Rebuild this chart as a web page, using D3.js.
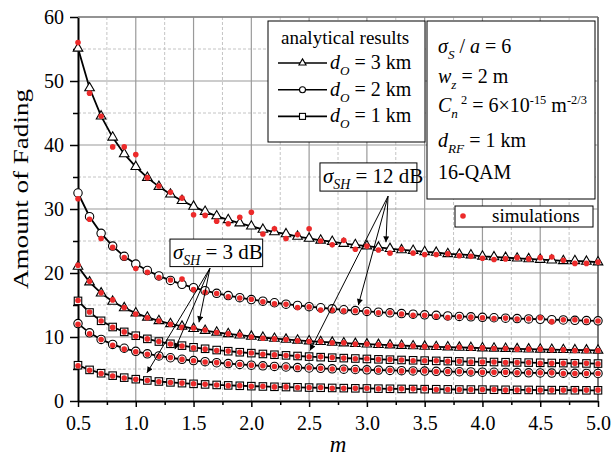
<!DOCTYPE html>
<html>
<head>
<meta charset="utf-8">
<script src="https://cdn.jsdelivr.net/npm/d3@7"></script>
<style>
  body { margin: 0; background: #fff; }
  svg { font-family: "Liberation Serif", "Times New Roman", serif; }
  text { white-space: pre; }
</style>
</head>
<body>
<div class="chart"></div>
<script>
// m values (x axis)
const mValues = [0.5,0.6,0.7,0.8,0.9,1.0,1.1,1.2,1.3,1.4,1.5,1.6,1.7,1.8,1.9,2.0,2.1,2.2,2.3,2.4,2.5,2.6,2.7,2.8,2.9,3.0,
  3.1,3.2,3.3,3.4,3.5,3.6,3.7,3.8,3.9,4.0,4.1,4.2,4.3,4.4,4.5,4.6,4.7,4.8,4.9,5.0]

// analytical results, sigma_SH = 12 dB
const afD3s12 = [55.1,48.9,44.5,41.2,38.6,36.6,34.9,33.5,32.3,31.3,30.4,29.6,28.9,28.3,27.8,27.3,26.8,26.4,26.1,25.7,25.4,25.1,24.9,24.6,24.4,24.2,
  24.0,23.8,23.6,23.5,23.3,23.2,23.0,22.9,22.8,22.6,22.5,22.4,22.3,22.2,22.1,22.0,21.9,21.9,21.8,21.7]
const afD2s12 = [32.5,28.8,26.2,24.2,22.6,21.4,20.4,19.55,18.84,18.23,17.7,17.24,16.83,16.47,16.14,15.85,15.59,15.35,15.13,14.93,14.74,14.57,14.41,14.26,14.13,14.0,
  13.88,13.77,13.66,13.56,13.47,13.38,13.3,13.22,13.15,13.08,13.01,12.94,12.88,12.82,12.77,12.71,12.66,12.61,12.57,12.52]
const afD1s12 = [15.64,13.83,12.53,11.56,10.8,10.2,9.71,9.29,8.94,8.65,8.39,8.16,7.96,7.78,7.62,7.48,7.35,7.23,7.13,7.03,6.94,6.85,6.77,6.7,6.64,6.57,
  6.51,6.46,6.41,6.36,6.31,6.27,6.23,6.19,6.15,6.12,6.09,6.06,6.03,6.0,5.97,5.94,5.92,5.89,5.87,5.85]
// analytical results, sigma_SH = 3 dB
const afD3s3 = [21.01,18.58,16.85,15.55,14.54,13.73,13.07,12.52,12.05,11.65,11.3,11.0,10.73,10.49,10.28,10.09,9.92,9.76,9.62,9.48,9.36,9.25,9.15,9.05,8.96,8.88,
  8.8,8.73,8.66,8.59,8.53,8.47,8.42,8.37,8.32,8.27,8.23,8.18,8.14,8.1,8.07,8.03,8.0,7.97,7.94,7.91]
const afD2s3 = [12.09,10.65,9.62,8.84,8.24,7.76,7.37,7.04,6.76,6.52,6.32,6.14,5.98,5.84,5.71,5.6,5.49,5.4,5.31,5.23,5.16,5.1,5.03,4.98,4.92,4.87,
  4.83,4.78,4.74,4.7,4.67,4.63,4.6,4.57,4.54,4.51,4.49,4.46,4.44,4.41,4.39,4.37,4.35,4.33,4.31,4.3]
const afD1s3 = [5.59,4.86,4.34,3.96,3.65,3.41,3.21,3.05,2.91,2.79,2.68,2.59,2.51,2.44,2.38,2.32,2.27,2.22,2.18,2.14,2.1,2.07,2.04,2.01,1.98,1.96,
  1.93,1.91,1.89,1.87,1.85,1.84,1.82,1.8,1.79,1.78,1.76,1.75,1.74,1.73,1.71,1.7,1.69,1.68,1.67,1.67]

// simulations
const simD3s12 = [56.0,48.1,44.5,39.7,39.7,38.5,34.9,33.6,32.6,31.7,29.1,29.0,28.1,27.7,28.7,29.5,26.1,26.9,25.4,26.0,26.9,25.0,24.4,25.1,23.7,24.2,
  23.6,23.1,23.7,23.1,22.9,22.9,23.0,22.7,22.6,22.3,22.1,22.2,22.4,22.2,22.4,22.5,22.0,21.5,21.5,21.7]
const simD2s12 = [31.6,28.4,25.4,24.0,22.4,20.7,20.1,19.3,18.9,19.05,17.4,17.0,16.8,16.3,16.1,15.9,15.5,15.2,15.1,14.6,14.7,14.2,14.2,14.1,14.1,13.9,
  13.8,13.8,13.6,13.4,13.4,13.25,13.05,13.15,13.1,13.0,12.9,12.95,12.8,12.85,13.0,12.4,12.7,12.7,12.5,12.5]
const simD1s12 = [15.7,13.9,12.5,11.5,10.8,10.1,9.7,9.3,8.9,8.6,8.3,8.1,7.9,7.8,7.6,7.5,7.3,7.2,7.1,7.0,6.9,6.9,6.8,6.7,6.6,6.6,
  6.5,6.5,6.4,6.3,6.3,6.3,6.2,6.2,6.1,6.1,6.1,6.0,6.0,6.0,5.9,5.9,5.9,5.9,5.9,5.8]
const simD3s3 = [21.2,18.7,16.9,15.8,14.6,13.6,13.0,12.5,12.0,11.5,11.4,11.1,10.7,10.5,10.3,10.0,9.8,9.7,9.6,9.4,9.3,9.3,9.1,9.1,8.9,8.9,
  8.8,8.7,8.7,8.6,8.5,8.5,8.4,8.4,8.3,8.3,8.2,8.2,8.1,8.1,8.1,8.0,8.0,7.9,7.9,7.9]
const simD2s3 = [12.0,10.5,9.6,8.7,8.1,7.7,7.3,7.0,6.8,6.5,6.3,6.1,6.0,5.8,5.7,5.6,5.5,5.4,5.3,5.2,5.2,5.1,5.0,5.0,4.9,4.9,
  4.8,4.8,4.7,4.7,4.7,4.6,4.6,4.6,4.5,4.5,4.5,4.5,4.4,4.4,4.4,4.4,4.3,4.3,4.3,4.3]
const simD1s3 = [5.5,4.8,4.3,3.9,3.6,3.4,3.2,3.0,2.9,2.8,2.7,2.6,2.5,2.4,2.4,2.3,2.3,2.2,2.2,2.1,2.1,2.1,2.0,2.0,2.0,2.0,
  1.9,1.9,1.9,1.9,1.9,1.8,1.8,1.8,1.8,1.8,1.8,1.7,1.7,1.7,1.7,1.7,1.7,1.7,1.7,1.7]

const xMajor = [0.5,1.0,1.5,2.0,2.5,3.0,3.5,4.0,4.5,5.0]
const xMinor = [0.75,1.25,1.75,2.25,2.75,3.25,3.75,4.25,4.75]
const yMajor = [0,10,20,30,40,50,60]
const yMinor = [5,15,25,35,45,55]

const series = [
  {vals: afD3s12, sim: simD3s12, shape: "tri"},
  {vals: afD2s12, sim: simD2s12, shape: "circ"},
  {vals: afD1s12, sim: simD1s12, shape: "sq"},
  {vals: afD3s3, sim: simD3s3, shape: "tri"},
  {vals: afD2s3, sim: simD2s3, shape: "circ"},
  {vals: afD1s3, sim: simD1s3, shape: "sq"}
]

const W = 612, H = 457
const plot = {left: 78, right: 598, top: 17, bottom: 401}

const svg = d3.select(".chart").append("svg")
    .attr("width", W)
    .attr("height", H)

const x = d3.scaleLinear().domain([0.5, 5]).range([plot.left, plot.right])
const y = d3.scaleLinear().domain([0, 60]).range([plot.bottom, plot.top])

// grid
const grid = svg.append("g")
grid.selectAll(".vminor").data(xMinor).join("line")
    .attr("x1", d => x(d)).attr("x2", d => x(d))
    .attr("y1", plot.top).attr("y2", plot.bottom)
    .attr("stroke", "#c4c4c4").attr("stroke-dasharray", "3,2")
grid.selectAll(".hminor").data(yMinor).join("line")
    .attr("y1", d => y(d)).attr("y2", d => y(d))
    .attr("x1", plot.left).attr("x2", plot.right)
    .attr("stroke", "#c4c4c4").attr("stroke-dasharray", "3,2")
grid.selectAll(".vmajor").data(xMajor.slice(1)).join("line")
    .attr("x1", d => x(d)).attr("x2", d => x(d))
    .attr("y1", plot.top).attr("y2", plot.bottom)
    .attr("stroke", "#9a9a9a").attr("stroke-width", 1.2)
grid.selectAll(".hmajor").data(yMajor.slice(1)).join("line")
    .attr("y1", d => y(d)).attr("y2", d => y(d))
    .attr("x1", plot.left).attr("x2", plot.right)
    .attr("stroke", "#9a9a9a").attr("stroke-width", 1.2)

// axes
const xAxis = svg.append("g").attr("transform", `translate(0,${plot.bottom})`)
    .call(d3.axisBottom(x).tickValues(xMajor).tickFormat(d3.format(".1f")).tickSize(6).tickPadding(9).tickSizeOuter(0))
svg.append("g").attr("transform", `translate(0,${plot.bottom})`)
    .call(d3.axisBottom(x).tickValues(xMinor).tickFormat("").tickSize(4).tickSizeOuter(0))
    .call(g => g.select(".domain").remove())
const yAxis = svg.append("g").attr("transform", `translate(${plot.left},0)`)
    .call(d3.axisLeft(y).tickValues(yMajor).tickSize(8).tickPadding(6).tickSizeOuter(0))
svg.append("g").attr("transform", `translate(${plot.left},0)`)
    .call(d3.axisLeft(y).tickValues(yMinor).tickFormat("").tickSize(5).tickSizeOuter(0))
    .call(g => g.select(".domain").remove())

svg.selectAll(".tick line").attr("stroke", "#000").attr("stroke-width", 1.5)
svg.selectAll(".domain").attr("stroke", "#000").attr("stroke-width", 2)
svg.selectAll(".tick text").attr("font-size", 20).attr("font-family", "Liberation Serif").attr("fill", "#000")
yAxis.selectAll(".tick text").attr("dy", "0.34em")

// frame top / right
svg.append("line").attr("x1", plot.left).attr("x2", plot.right).attr("y1", plot.top).attr("y2", plot.top)
    .attr("stroke", "#808080").attr("stroke-width", 1.5)
svg.append("line").attr("x1", plot.right).attr("x2", plot.right).attr("y1", plot.top).attr("y2", plot.bottom)
    .attr("stroke", "#606060").attr("stroke-width", 1.5)

// axis titles
svg.append("text")
    .attr("transform", `translate(28,189) rotate(-90)`)
    .attr("text-anchor", "middle")
    .attr("font-size", 21)
    .attr("textLength", 200)
    .attr("lengthAdjust", "spacingAndGlyphs")
    .text("Amount of Fading")
svg.append("text")
    .attr("x", (plot.left + plot.right) / 2)
    .attr("y", 452)
    .attr("text-anchor", "middle")
    .attr("font-size", 23)
    .attr("font-style", "italic")
    .text("m")

// marker helper
function drawMarker(sel, shape, small) {
    if (shape === "tri") {
        sel.append("path")
            .attr("d", d3.symbol(d3.symbolTriangle, small ? 22 : 40)())
    } else if (shape === "circ") {
        sel.append("circle").attr("r", small ? 3 : 4.2)
    } else {
        const s = small ? 6 : 7.5
        sel.append("rect").attr("x", -s/2).attr("y", -s/2).attr("width", s).attr("height", s)
    }
    sel.selectAll("path,circle,rect").attr("fill", "#fff").attr("stroke", "#000").attr("stroke-width", 1.1)
}

const line = d3.line().x((d, i) => x(mValues[i])).y(d => y(d))

series.forEach(s => {
    const g = svg.append("g")
    g.append("path").datum(s.vals)
        .attr("d", line)
        .attr("fill", "none")
        .attr("stroke", "#000")
        .attr("stroke-width", 1.8)
    g.selectAll(".mk").data(s.vals).join("g")
        .attr("transform", (d, i) => `translate(${x(mValues[i])},${y(d)})`)
        .each(function() { drawMarker(d3.select(this), s.shape, false) })
})
series.forEach(s => {
    svg.append("g").selectAll("circle").data(s.sim).join("circle")
        .attr("cx", (d, i) => x(mValues[i]))
        .attr("cy", d => y(d))
        .attr("r", 2.8)
        .attr("fill", "#ec2a2a")
})

// rich text helper: parts = [text, pos, italic]
function richText(g, tx, ty, size, parts) {
    const t = g.append("text").attr("x", tx).attr("y", ty).attr("font-size", size)
    parts.forEach(([s, pos, it]) => {
        const sp = t.append("tspan").text(s)
        if (it) sp.attr("font-style", "italic")
        if (pos === "sub") sp.attr("y", ty + size * 0.3).attr("font-size", size * 0.66)
        else if (pos === "sup") sp.attr("y", ty - size * 0.38).attr("font-size", size * 0.62)
        else sp.attr("y", ty)
    })
    return t
}

// arrows
svg.append("defs").append("marker")
    .attr("id", "arrow")
    .attr("viewBox", "0 0 10 10")
    .attr("refX", 10).attr("refY", 5)
    .attr("markerWidth", 9).attr("markerHeight", 6)
    .attr("markerUnits", "userSpaceOnUse")
    .attr("orient", "auto")
  .append("path").attr("d", "M0,0L10,5L0,10z").attr("fill", "#000")

const ann12 = {box: [2.594, 37.2, 3.433, 32.8], from: [3.183, 32.0], to: [[3.165, 24.8], [2.926, 15.0], [2.508, 7.9]], label: "12 dB"}
const ann3 = {box: [1.296, 25.3, 2.098, 21.0], from: [1.642, 20.75], to: [[1.547, 12.3], [1.339, 8.1], [1.097, 4.4]], label: "3 dB"}

;[ann12, ann3].forEach(a => {
    const g = svg.append("g")
    a.to.forEach(t => {
        g.append("line")
            .attr("x1", x(a.from[0])).attr("y1", y(a.from[1]))
            .attr("x2", x(t[0])).attr("y2", y(t[1]))
            .attr("stroke", "#000").attr("stroke-width", 1)
            .attr("marker-end", "url(#arrow)")
    })
    const bx = x(a.box[0]), by = y(a.box[1])
    g.append("rect")
        .attr("x", bx).attr("y", by)
        .attr("width", x(a.box[2]) - bx).attr("height", y(a.box[3]) - by)
        .attr("fill", "#fff").attr("stroke", "#000").attr("stroke-width", 1)
    richText(g, bx + 3, by + 20, 21, [["σ", "base", true], ["SH", "sub", true], [" = " + a.label, "base", false]])
})

// legend: analytical results
const leg = svg.append("g")
leg.append("rect").attr("x", 268).attr("y", 21).attr("width", 157).attr("height", 121)
    .attr("fill", "#fff").attr("stroke", "#000").attr("stroke-width", 1)
leg.append("text").attr("x", 281).attr("y", 44).attr("font-size", 19).text("analytical results")
const legItems = [{shape: "tri", d: "3"}, {shape: "circ", d: "2"}, {shape: "sq", d: "1"}]
legItems.forEach((it, i) => {
    const ly = 63 + i * 26.7
    leg.append("line").attr("x1", 278).attr("x2", 327).attr("y1", ly).attr("y2", ly)
        .attr("stroke", "#000").attr("stroke-width", 1.6)
    const m = leg.append("g").attr("transform", `translate(302.5,${ly})`)
    drawMarker(m, it.shape, true)
    richText(leg, 330, ly + 6, 20, [["d", "base", true], ["O", "sub", true], [" = " + it.d + " km", "base", false]])
})

// parameter box
const info = svg.append("g")
info.append("rect").attr("x", 427).attr("y", 21).attr("width", 168).attr("height", 178)
    .attr("fill", "#fff").attr("stroke", "#000").attr("stroke-width", 1)
richText(info, 438, 53, 20, [["σ", "base", true], ["S", "sub", true], [" / ", "base", false], ["a", "base", true], [" = 6", "base", false]])
richText(info, 438, 83, 20, [["w", "base", true], ["z", "sub", true], [" = 2 m", "base", false]])
richText(info, 438, 112, 20, [["C", "base", true], ["n", "sub", true], [" 2", "sup", false], [" = 6×10", "base", false], ["-15", "sup", false], [" m", "base", false], ["-2/3", "sup", false]])
richText(info, 438, 147, 20, [["d", "base", true], ["RF", "sub", true], [" = 1 km", "base", false]])
richText(info, 438, 179, 20, [["16-QAM", "base", false]])

// simulations legend
const simLeg = svg.append("g")
simLeg.append("rect").attr("x", 455).attr("y", 206).attr("width", 138).attr("height", 21)
    .attr("fill", "#fff").attr("stroke", "#000").attr("stroke-width", 1)
simLeg.append("circle").attr("cx", 463).attr("cy", 216).attr("r", 2.8).attr("fill", "#ec2a2a")
simLeg.append("text").attr("x", 492).attr("y", 222).attr("font-size", 19).text("simulations")
</script>
</body>
</html>
